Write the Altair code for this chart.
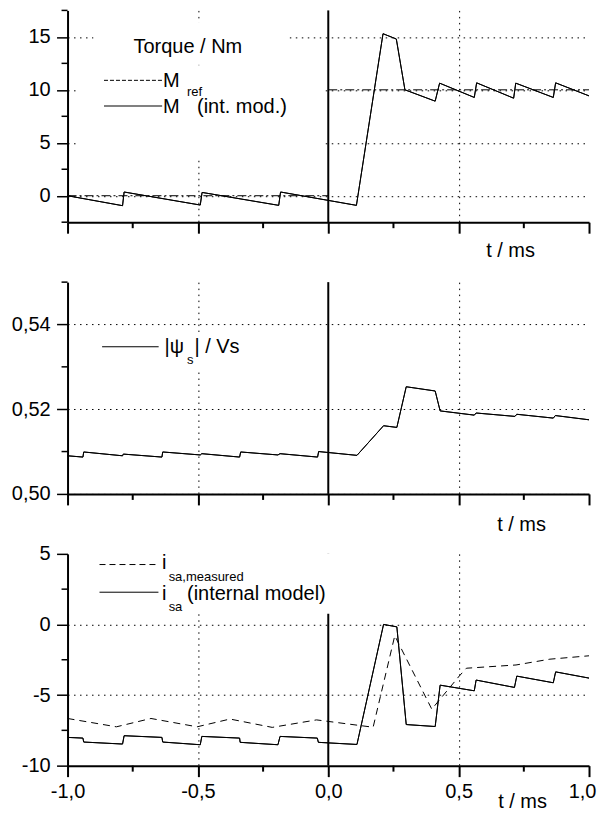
import altair as alt
import pandas as pd

FONT = "Liberation Sans"
FS = 20
SUB = 13

# ---------------- data ----------------
X_MAJOR = [-1.0, -0.5, 0.0, 0.5, 1.0]
X_MINOR = [-0.75, -0.25, 0.25, 0.75]

# Panel 1: torque
M_T = [-1.0, -0.789, -0.783, -0.491, -0.484, -0.190, -0.183, 0.108, 0.210, 0.261,
       0.294, 0.410, 0.427, 0.560, 0.569, 0.711, 0.719, 0.863, 0.872, 1.0]
M_V = [0.0, -0.94, 0.35, -0.88, 0.31, -0.91, 0.35, -0.91, 15.3, 14.8,
       10.0, 8.93, 10.63, 9.28, 10.66, 9.21, 10.63, 9.28, 10.66, 9.43]
MREF_T = [-1.0, 0.0, 0.0, 1.0]
MREF_V = [0.0, 0.0, 10.0, 10.0]
MREF_SEG = [0, 0, 1, 1]
Y1_MAJOR = [0, 5, 10, 15]
Y1_MINOR = [-2.5, 2.5, 7.5, 12.5, 17.5]

# Panel 2: flux magnitude
PSI_T = [-1.0, -0.941, -0.938, -0.789, -0.786, -0.638, -0.635, -0.491, -0.485, -0.340,
         -0.336, -0.193, -0.185, -0.041, -0.037, 0.110, 0.212, 0.263, 0.299, 0.410,
         0.429, 0.560, 0.567, 0.716, 0.723, 0.863, 0.871, 1.0]
PSI_V = [0.5090, 0.5087, 0.5099, 0.5090, 0.5094, 0.5087, 0.5099, 0.5092, 0.5095, 0.5087,
         0.5099, 0.5092, 0.5095, 0.5087, 0.5100, 0.5091, 0.5161, 0.5157, 0.5253, 0.5243,
         0.5196, 0.5186, 0.5191, 0.5183, 0.5188, 0.5179, 0.5185, 0.5175]
Y2_MAJOR = [0.50, 0.52, 0.54]
Y2_MINOR = [0.51, 0.53, 0.55]

# Panel 3: current
ISA_T = [-1.0, -0.941, -0.938, -0.789, -0.783, -0.638, -0.635, -0.491, -0.485, -0.340,
         -0.338, -0.193, -0.185, -0.042, -0.038, 0.110, 0.212, 0.263, 0.299, 0.410,
         0.429, 0.560, 0.567, 0.714, 0.723, 0.863, 0.872, 1.0]
ISA_V = [-8.0, -8.05, -8.33, -8.47, -7.88, -8.0, -8.33, -8.52, -7.93, -8.05,
         -8.35, -8.52, -7.93, -8.05, -8.35, -8.5, 0.0, -0.17, -7.09, -7.23,
         -4.3, -4.7, -3.94, -4.46, -3.66, -4.13, -3.36, -3.8]
MEAS_T = [-1.0, -0.8125, -0.68, -0.503, -0.377, -0.215, -0.045, 0.172, 0.255, 0.397,
          0.503, 0.53, 0.72, 0.85, 1.0]
MEAS_V = [-6.66, -7.25, -6.66, -7.25, -6.7, -7.29, -6.76, -7.28, -0.8, -6.0,
          -3.64, -3.1, -2.87, -2.46, -2.22]
Y3_MAJOR = [-10, -5, 0, 5]
Y3_MINOR = [-7.5, -2.5, 2.5]

W, H = 522, 212
XDOM = [-1, 1]

one = pd.DataFrame({"k": [0]})


def df(t, v, seg=None):
    d = pd.DataFrame({"t": t, "v": v, "i": list(range(len(t)))})
    d["seg"] = seg if seg is not None else 0
    return d


def xaxis(labels, tx, ty):
    kw = dict(values=X_MAJOR, grid=True, gridColor="black", gridDash=[1.5, 4.5], gridWidth=1,
              gridOpacity={"condition": {"test": "abs(abs(datum.value) - 0.5) < 0.001", "value": 1}, "value": 0},
              tickSize=11, tickWidth=2, tickColor="black", domainColor="black", domainWidth=2,
              labels=labels, title="t / ms", titleFont=FONT, titleFontSize=FS,
              titleFontWeight="normal", titleColor="black", titleX=tx, titleY=ty,
              titleAlign="center", titleBaseline="middle")
    if labels:
        kw.update(labelExpr="replace(replace(format(datum.value, '.1f'), '.', ','), '\u2212', '-')",
                  labelOffset={"condition": {"test": "datum.value > 0.9", "value": -7}, "value": 0},
                  labelFont=FONT, labelFontSize=FS, labelColor="black", labelPadding=5,
                  labelFlush=False, labelOverlap=False)
    return alt.Axis(**kw)


def yaxis(values, label_expr, grid_op=None):
    kw = dict(values=values, grid=True, gridColor="black", gridDash=[1.5, 4.5], gridWidth=1,
              tickSize=11, tickWidth=1.5, tickColor="black", domainColor="black", domainWidth=2,
              labelExpr=label_expr, labelFont=FONT, labelFontSize=FS, labelColor="black",
              labelPadding=6.4, labelOverlap=False, labelFlush=False, title="")
    if grid_op is not None:
        kw["gridOpacity"] = grid_op
    return alt.Axis(**kw)


def txt(s, x, y, size=FS):
    return alt.Chart(one).mark_text(text=s, align="left", baseline="middle", font=FONT,
                                    fontSize=size, color="black").encode(
        x=alt.value(x), y=alt.value(y))


def box(x1, x2, y1, y2):
    return alt.Chart(one).mark_rect(color="white").encode(
        x=alt.value(x1), x2=alt.value(x2), y=alt.value(y1), y2=alt.value(y2))


def sample(x1, x2, y, dash=None):
    kw = {"color": "black", "strokeWidth": 1}
    if dash:
        kw["strokeDash"] = dash
    return alt.Chart(one).mark_rule(**kw).encode(
        x=alt.value(x1), x2=alt.value(x2), y=alt.value(y))


def xs():
    return alt.Scale(domain=XDOM, nice=False)


def zero_rule():
    return alt.Chart(pd.DataFrame({"t": [0.0]})).mark_rule(color="black", strokeWidth=2).encode(
        x=alt.X("t:Q", scale=xs()))


def x_minor_ticks():
    return alt.Chart(pd.DataFrame({"t": X_MINOR})).mark_rule(color="black", strokeWidth=2).encode(
        x=alt.X("t:Q", scale=xs()), y=alt.value(H), y2=alt.value(H + 6))


def y_minor_ticks(vals, ydom):
    return alt.Chart(pd.DataFrame({"v": vals})).mark_rule(color="black", strokeWidth=1.5).encode(
        y=alt.Y("v:Q", scale=alt.Scale(domain=ydom, nice=False, zero=False)),
        x=alt.value(-6), x2=alt.value(0))


def data_line(d, ydom, xax=None, yax=None, dash=None, detail=False):
    kw = {"color": "black", "strokeWidth": 1}
    if dash:
        kw["strokeDash"] = dash
    xkw = dict(scale=xs())
    ykw = dict(scale=alt.Scale(domain=ydom, nice=False, zero=False))
    if xax is not None:
        xkw["axis"] = xax
    if yax is not None:
        ykw["axis"] = yax
    enc = dict(x=alt.X("t:Q", **xkw), y=alt.Y("v:Q", **ykw), order="i:Q")
    if detail:
        enc["detail"] = "seg:N"
    return alt.Chart(d).mark_line(**kw).encode(**enc)


# ---------------- panel 1 ----------------
D1 = [-2.5, 17.5]
p1 = alt.layer(
    data_line(df(M_T, M_V), D1, xaxis(False, 443, 28),
              yaxis(Y1_MAJOR, "format(datum.value, 'd')")),
    zero_rule(),
    x_minor_ticks(),
    y_minor_ticks(Y1_MINOR, D1),
    box(26, 222, 12, 52),
    box(8.5, 255, 55, 149),
    data_line(df(MREF_T, MREF_V, MREF_SEG), D1, dash=[9, 3, 2, 3], detail=True),
    data_line(df(M_T, M_V), D1),
    txt("Torque / Nm", 66, 37),
    sample(36.5, 94.7, 70, dash=[4, 2]),
    txt("M", 95.6, 70.7),
    txt("ref", 119.6, 82, SUB),
    sample(36.5, 94.7, 95.7),
    txt("M", 95.6, 97),
    txt("(int. mod.)", 129.6, 97),
).properties(width=W, height=H)

# ---------------- panel 2 ----------------
D2 = [0.50, 0.55]
p2 = alt.layer(
    data_line(df(PSI_T, PSI_V), D2, xaxis(False, 454, 31),
              yaxis(Y2_MAJOR, "replace(format(datum.value, '.2f'), '.', ',')")),
    zero_rule(),
    x_minor_ticks(),
    y_minor_ticks(Y2_MINOR, D2),
    box(95, 180, 50, 88),
    data_line(df(PSI_T, PSI_V), D2),
    sample(34.6, 91.2, 64.7),
    txt("|\u03c8", 97, 64.7),
    txt("s", 119.6, 78, SUB),
    txt("| / Vs", 127, 64.7),
).properties(width=W, height=H)

# ---------------- panel 3 ----------------
D3 = [-10, 5]
p3 = alt.layer(
    data_line(df(ISA_T, ISA_V), D3, xaxis(True, 455, 36),
              yaxis(Y3_MAJOR, "replace(format(datum.value, 'd'), '\u2212', '-')",
                    {"condition": {"test": "datum.value < 1 && datum.value > -9", "value": 1}, "value": 0})),
    zero_rule(),
    x_minor_ticks(),
    y_minor_ticks(Y3_MINOR, D3),
    box(2, 282, 0, 60),
    data_line(df(MEAS_T, MEAS_V), D3, dash=[7, 5]),
    data_line(df(ISA_T, ISA_V), D3),
    sample(32, 91, 10.7, dash=[6, 4]),
    txt("i", 94.6, 9),
    txt("sa,measured", 101.2, 23.3, SUB),
    sample(32, 91, 38.4),
    txt("i", 94.6, 40.2),
    txt("sa", 101.2, 53, SUB),
    txt("(internal model)", 119.6, 40.5),
).properties(width=W, height=H)

chart = alt.vconcat(p1, p2, p3, spacing=60, bounds="flush").properties(
    padding={"left": 2.6, "top": 0, "right": 0, "bottom": 0}
).configure_view(stroke="transparent")

chart.save("out.html", embed_options={"renderer": "svg", "actions": False})
